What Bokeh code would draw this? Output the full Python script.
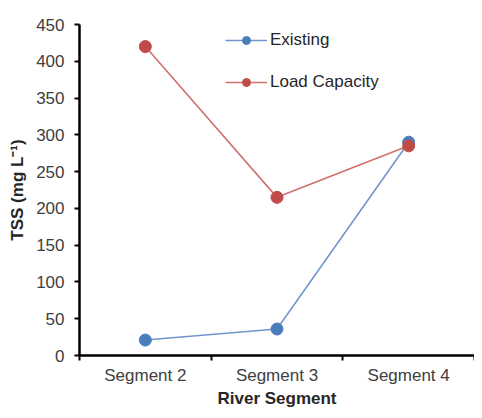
from bokeh.plotting import figure
from bokeh.models import (Range1d, LinearAxis, FixedTicker, Legend, LegendItem, ColumnDataSource)
from bokeh.embed import file_html
from bokeh.resources import INLINE

segments = ["Segment 2", "Segment 3", "Segment 4"]
existing = [21, 36, 290]
load_capacity = [420, 215, 285]
y_ticks = [0, 50, 100, 150, 200, 250, 300, 350, 400, 450]

BLUE = "#4A7EBB"
BLUE_LINE = "#6F97CC"
RED = "#BE4B48"
RED_LINE = "#D0716E"
FONT = "Liberation Sans"
TXT = "#404040"

n = len(segments)
centers = [i + 0.5 for i in range(n)]      # category centres on the numeric scale
bounds = [float(i) for i in range(n + 1)]  # category boundaries

p = figure(width=474, height=410, x_range=Range1d(0, n),
           y_range=Range1d(0, 450), output_backend="svg", toolbar_location=None,
           x_axis_location=None, y_axis_location=None,
           min_border_left=79, min_border_top=24, min_border_right=0, min_border_bottom=0)
p.outline_line_color = None
p.xgrid.visible = False
p.ygrid.visible = False
p.background_fill_color = "white"
p.border_fill_color = "white"

# y axis
ya = LinearAxis(ticker=FixedTicker(ticks=y_ticks))
ya.axis_line_width = 2.5
ya.axis_line_color = "black"
ya.major_tick_line_color = "black"
ya.major_tick_line_width = 2
ya.major_tick_out = 5
ya.major_tick_in = 0
ya.minor_tick_line_color = None
ya.major_label_standoff = 10
ya.major_label_text_font = FONT
ya.major_label_text_font_size = "17px"
ya.major_label_text_color = TXT
ya.axis_label = "TSS (mg L\u207b\u00b9)"
ya.axis_label_text_font = FONT
ya.axis_label_text_font_size = "17px"
ya.axis_label_text_font_style = "bold"
ya.axis_label_text_color = "#262626"
ya.axis_label_standoff = 6
p.add_layout(ya, "left")

# x axis: labels at category centres, tick marks at category boundaries
xa = LinearAxis(ticker=FixedTicker(ticks=centers, minor_ticks=bounds))
xa.axis_line_width = 2.5
xa.axis_line_color = "black"
xa.major_tick_line_color = None
xa.major_tick_out = 0
xa.major_tick_in = 0
xa.minor_tick_line_color = "black"
xa.minor_tick_line_width = 2
xa.minor_tick_out = 5
xa.minor_tick_in = 0
xa.major_label_overrides = {c: s for c, s in zip(centers, segments)}
xa.major_label_standoff = 5
xa.major_label_text_font = FONT
xa.major_label_text_font_size = "17px"
xa.major_label_text_line_height = 1.0
xa.major_label_text_color = TXT
xa.axis_label = "River Segment"
xa.axis_label_text_font = FONT
xa.axis_label_text_font_size = "17px"
xa.axis_label_text_font_style = "bold"
xa.axis_label_text_line_height = 1.0
xa.axis_label_text_color = "#262626"
xa.axis_label_standoff = 1
p.add_layout(xa, "below")

src = ColumnDataSource(dict(x=centers, existing=existing, load=load_capacity))

l1 = p.line("x", "existing", source=src, line_color=BLUE_LINE, line_width=1.6)
l2 = p.line("x", "load", source=src, line_color=RED_LINE, line_width=1.6)
# small dots (used for the legend; covered by the big markers)
d1 = p.scatter("x", "existing", source=src, size=6, fill_color=BLUE, line_color=BLUE)
d2 = p.scatter("x", "load", source=src, size=6, fill_color=RED, line_color=RED)
m1 = p.scatter("x", "existing", source=src, size=12, fill_color=BLUE, line_color=BLUE)
m2 = p.scatter("x", "load", source=src, size=12, fill_color=RED, line_color=RED)

legend = Legend(items=[LegendItem(label="Existing", renderers=[l1, d1]),
                       LegendItem(label="Load Capacity", renderers=[l2, d2])],
                location=(146, 263))
legend.border_line_color = None
legend.background_fill_alpha = 0
legend.padding = 0
legend.margin = 0
legend.spacing = 22
legend.glyph_width = 42
legend.glyph_height = 20
legend.label_standoff = 3
legend.label_text_font = FONT
legend.label_text_font_size = "17px"
legend.label_text_color = "#262626"
legend.label_height = 20
p.add_layout(legend, "center")

open("out.html", "w").write(file_html(p, INLINE))
